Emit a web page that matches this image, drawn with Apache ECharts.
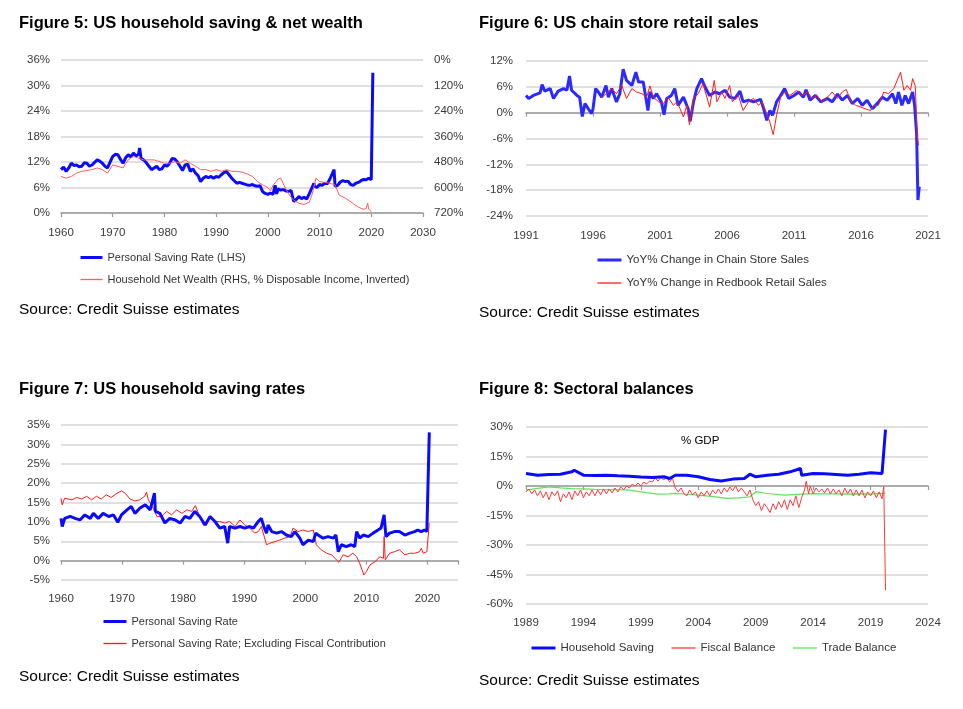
<!DOCTYPE html>
<html>
<head>
<meta charset="utf-8">
<script src="https://cdn.jsdelivr.net/npm/echarts@6/dist/echarts.min.js"></script>
<style>
html,body{margin:0;padding:0;background:#fff;}
#main{width:963px;height:709px;}
</style>
</head>
<body>
<div id="main"></div>
<script>
// ---------- Figure 5 ----------
const p1Saving = [[1960,10.2],[1960.5,10.8],[1961,9.8],[1961.5,10.6],[1962,11.7],[1962.5,11.2],[1963,11.3],[1963.5,10.9],[1964,11],[1964.5,11.8],[1965,11.7],[1965.5,11.0],[1966,11.3],[1966.5,11.9],[1967,12.5],[1967.5,12.2],[1968,11.7],[1968.5,11.0],[1969,10.6],[1969.5,12.0],[1970,13.3],[1970.5,13.8],[1971,13.7],[1971.5,12.6],[1972,11.7],[1972.5,13.0],[1973,13.7],[1973.5,13.2],[1974,14.1],[1974.5,13.4],[1975,13.8],[1975.2,15.3],[1975.5,12.8],[1976,12.5],[1976.5,11.8],[1977,11],[1977.5,10.2],[1978,10.6],[1978.5,11.0],[1979,10.2],[1979.5,10.4],[1980,11.3],[1980.5,11.0],[1981,11.7],[1981.5,12.8],[1982,12.7],[1982.5,12.0],[1983,11],[1983.5,10.0],[1984,11.3],[1984.5,11.5],[1985,9.8],[1985.5,10.4],[1986,9.4],[1986.5,8.8],[1987,7.4],[1987.5,8.2],[1988,8.6],[1988.5,8.3],[1989,8.6],[1989.5,8.2],[1990,8.6],[1990.5,8.4],[1991,9],[1991.5,9.5],[1992,9.8],[1992.5,9.0],[1993,8.2],[1993.5,7.6],[1994,7],[1994.5,7.2],[1995,7],[1995.5,6.8],[1996,6.6],[1996.5,6.5],[1997,6.7],[1997.5,6.4],[1998,6.3],[1998.5,6.4],[1999,5.0],[1999.5,4.6],[2000,4.4],[2000.5,4.7],[2001,4.4],[2001.4,6.5],[2001.7,4.5],[2002,5.7],[2002.5,5.4],[2003,5.5],[2003.5,5.2],[2004,5.1],[2004.5,5.3],[2005,2.7],[2005.5,3.2],[2006,3.9],[2006.5,3.4],[2007,3.7],[2007.5,3.3],[2008,4.5],[2008.9,7.0],[2009,6.3],[2009.5,6.0],[2010,6.7],[2010.5,6.5],[2011,7],[2011.5,6.9],[2012,8.0],[2012.8,10.2],[2013,6.3],[2013.5,6.5],[2014,7.3],[2014.5,7.6],[2015,7.4],[2015.5,7.5],[2016,6.7],[2016.5,6.5],[2017,7],[2017.5,7.2],[2018,7.6],[2018.5,7.9],[2019,7.8],[2019.5,8.2],[2020,7.8],[2020.15,7.9],[2020.3,33.0]];
const p1Wealth = [[1960,548],[1961,556],[1962,548],[1963,532],[1964,524],[1965,520],[1966,516],[1967,508],[1968,516],[1969,532],[1970,494],[1971,500],[1972,508],[1973,470],[1974,454],[1975,462],[1976,470],[1977,470],[1978,470],[1979,478],[1980,486],[1981,486],[1982,478],[1983,486],[1984,470],[1985,486],[1986,500],[1987,516],[1988,516],[1989,524],[1990,516],[1991,524],[1992,516],[1993,524],[1994,524],[1995,528],[1996,536],[1997,548],[1998,572],[1999,588],[2000,600],[2000.5,616],[2001,590],[2002,560],[2002.5,556],[2003,584],[2004,630],[2005,660],[2006,674],[2007,680],[2008,670],[2008.6,630],[2009.3,556],[2010,572],[2011,576],[2012,580],[2013,588],[2013.8,636],[2015,650],[2016.4,674],[2017.5,692],[2018.4,702],[2019,700],[2019.3,674],[2019.5,702],[2020,714]];
const p1YearTicks = {min:1960, max:2030, step:10};
const p1Left = {min:0, max:36, step:6};
const p1Right = {min:0, max:720, step:120};

// ---------- Figure 6 ----------
const p2Chain = [[1991.0,4.0],[1991.2,3.3],[1991.55,4.0],[1992.05,4.6],[1992.2,6.5],[1992.4,5.0],[1992.8,5.6],[1993.05,3.3],[1993.4,5.0],[1993.8,5.6],[1994.05,5.2],[1994.25,8.5],[1994.4,5.2],[1994.8,4.0],[1995.0,3.6],[1995.2,-0.9],[1995.4,2.1],[1995.65,0.9],[1995.9,-0.2],[1996.0,0.9],[1996.2,5.6],[1996.4,4.8],[1996.65,3.6],[1996.97,6.3],[1997.15,3.6],[1997.4,5.6],[1997.75,2.5],[1998.0,4.4],[1998.25,10.1],[1998.5,7.5],[1998.9,6.3],[1999.2,9.4],[1999.4,7.1],[1999.75,7.1],[2000.1,0.5],[2000.25,4.8],[2000.5,3.3],[2000.75,4.4],[2001.1,2.5],[2001.3,-0.5],[2001.5,3.3],[2001.85,4.0],[2002.1,5.6],[2002.35,1.7],[2002.75,3.6],[2003.1,0.9],[2003.25,-2.0],[2003.5,2.5],[2003.75,5.6],[2004.1,7.9],[2004.35,6.0],[2004.7,4.0],[2005.1,4.8],[2005.45,4.4],[2005.85,5.2],[2006.2,3.6],[2006.6,3.3],[2006.97,5.0],[2007.2,2.5],[2007.6,2.9],[2007.97,2.5],[2008.5,3.1],[2008.7,1.3],[2008.97,-1.8],[2009.2,0.5],[2009.4,-0.6],[2009.7,2.5],[2010.0,4.0],[2010.3,5.6],[2010.6,3.3],[2011.0,4.0],[2011.35,4.8],[2011.7,3.6],[2011.9,5.3],[2012.2,2.9],[2012.6,4.0],[2013.0,2.5],[2013.5,3.3],[2013.85,2.5],[2014.25,4.3],[2014.6,2.9],[2015.0,4.0],[2015.35,2.1],[2015.75,3.3],[2016.1,1.7],[2016.45,2.9],[2016.85,0.9],[2017.2,2.1],[2017.6,3.6],[2017.95,2.9],[2018.35,4.4],[2018.6,2.1],[2018.8,4.8],[2019.05,1.7],[2019.3,4.0],[2019.55,2.1],[2019.85,4.8],[2020.0,1.7],[2020.15,-4.9],[2020.25,-20.3],[2020.35,-17.2]];
const p2Redbook = [[1996.65,3.6],[1997.0,4.4],[1997.4,5.6],[1997.75,4.4],[1998.15,6.3],[1998.5,3.3],[1998.9,5.6],[1999.25,4.8],[1999.65,4.4],[2000.0,3.6],[2000.25,6.2],[2000.5,3.6],[2000.9,2.5],[2001.25,2.1],[2001.6,3.6],[2002.0,1.7],[2002.25,2.5],[2002.5,0.9],[2002.75,-1.0],[2003.0,1.7],[2003.2,-2.8],[2003.5,3.3],[2003.85,4.4],[2004.2,6.7],[2004.5,3.6],[2004.7,1.3],[2005.05,7.5],[2005.25,2.5],[2005.6,4.8],[2005.85,3.3],[2006.2,6.3],[2006.4,2.5],[2006.85,4.0],[2007.2,0.5],[2007.6,2.5],[2007.97,3.3],[2008.35,1.7],[2008.6,2.5],[2008.97,-0.2],[2009.2,-2.2],[2009.45,-5.1],[2009.7,-0.6],[2010.0,3.6],[2010.35,4.8],[2010.7,4.0],[2011.2,5.2],[2011.6,4.0],[2012.0,4.8],[2012.35,3.3],[2012.7,4.0],[2013.1,2.5],[2013.5,3.6],[2013.85,4.8],[2014.25,3.3],[2014.6,4.8],[2014.9,5.4],[2015.2,2.9],[2015.6,1.7],[2016.0,1.3],[2016.3,0.9],[2016.7,0.5],[2016.95,1.7],[2017.3,1.7],[2017.7,4.8],[2018.05,4.4],[2018.45,5.6],[2018.95,9.4],[2019.2,5.2],[2019.45,6.3],[2019.7,5.2],[2019.85,7.9],[2020.05,6.2],[2020.15,6.2],[2020.2,-5.6],[2020.3,-7.6]];
const p2YearTicks = {min:1991, max:2021, step:5};
const p2Y = {min:-24, max:12, step:6};

// ---------- Figure 7 ----------
const p3Saving = [[1960,10.9],[1960.2,8.8],[1960.6,10.9],[1961.5,11.4],[1962.3,10.9],[1963.1,10.5],[1963.9,11.8],[1964.8,10.9],[1965.3,12.2],[1966.1,10.9],[1966.9,12.2],[1967.8,11.4],[1968.6,11.8],[1969.3,9.9],[1969.9,11.8],[1970.8,13.1],[1971.5,14.0],[1972.1,12.2],[1972.9,13.5],[1973.8,14.4],[1974.6,13.1],[1975.3,17.4],[1975.45,12.7],[1976.2,12.2],[1977.0,9.7],[1977.8,10.9],[1978.7,10.5],[1979.5,9.7],[1980.3,11.4],[1981.1,10.9],[1981.9,12.7],[1982.7,11.4],[1983.6,9.2],[1984.4,11.4],[1985.2,10.1],[1986.0,8.4],[1986.8,8.8],[1987.3,4.5],[1987.6,8.8],[1988.5,8.4],[1989.3,8.8],[1990.1,8.4],[1990.9,8.8],[1991.5,8.4],[1992.3,10.1],[1992.8,10.9],[1993.2,8.8],[1993.65,7.1],[1993.9,9.2],[1994.5,7.5],[1995.3,7.1],[1996.1,7.5],[1996.9,6.6],[1997.7,6.2],[1998.3,7.5],[1999.1,5.8],[1999.6,4.1],[2000.5,5.3],[2001.3,4.9],[2001.7,7.1],[2002.1,6.6],[2002.9,5.8],[2003.7,6.2],[2004.6,5.8],[2005.0,6.6],[2005.4,2.3],[2005.9,4.1],[2006.7,3.6],[2007.5,4.1],[2008.1,3.6],[2008.4,7.5],[2008.9,5.8],[2009.5,6.6],[2010.3,6.2],[2011.1,7.1],[2011.9,7.9],[2012.4,8.4],[2012.9,11.8],[2013.2,6.2],[2013.8,7.1],[2014.6,7.5],[2015.4,7.5],[2016.3,6.6],[2017.1,7.1],[2017.9,7.5],[2018.4,7.9],[2019.0,7.5],[2019.5,7.9],[2019.9,7.5],[2020.1,8.0],[2020.3,33.1]];
const p3ExFiscal = [[1960,16.1],[1960.2,14.4],[1960.6,16.1],[1961.8,15.7],[1962.6,16.3],[1963.4,15.9],[1964.2,16.6],[1965.0,15.7],[1965.8,16.6],[1966.6,15.9],[1967.4,17.0],[1968.2,16.3],[1969.0,17.2],[1969.9,18.0],[1970.5,17.4],[1971.3,15.9],[1972.1,15.4],[1972.9,15.7],[1973.7,16.6],[1974.0,17.7],[1974.3,15.7],[1975.1,13.5],[1975.7,11.4],[1976.5,11.4],[1977.3,12.7],[1978.1,11.8],[1978.9,13.1],[1979.8,12.2],[1980.6,13.1],[1981.4,12.7],[1982.0,14.2],[1982.5,12.2],[1983.3,9.2],[1983.8,9.2],[1984.4,11.4],[1985.2,10.1],[1986.0,10.1],[1986.8,9.7],[1987.6,10.1],[1988.5,8.8],[1989.3,10.5],[1990.1,9.2],[1990.9,8.4],[1991.7,7.1],[1992.3,7.5],[1992.8,8.8],[1993.2,6.6],[1993.65,4.1],[1994.2,4.5],[1995.0,4.9],[1995.8,5.3],[1996.6,5.8],[1997.5,6.2],[1998.0,8.4],[1998.8,7.5],[1999.6,7.9],[2000.5,7.5],[2001.3,7.9],[2001.8,4.1],[2002.6,2.8],[2003.5,1.9],[2004.3,1.5],[2005.1,0.2],[2005.5,-0.4],[2006.2,1.5],[2007.0,1.0],[2007.8,1.9],[2008.4,1.0],[2008.9,-0.7],[2009.6,-3.7],[2010.0,-2.8],[2010.6,-1.1],[2011.4,-0.3],[2012.2,1.0],[2012.8,0.6],[2012.9,6.2],[2013.1,0.2],[2013.8,1.9],[2014.6,2.3],[2015.4,2.8],[2016.3,1.5],[2017.1,1.9],[2017.9,1.9],[2018.7,2.3],[2019.0,3.2],[2019.3,1.9],[2019.9,2.3],[2020.1,2.2],[2020.3,9.7]];
const p3YearTicks = {min:1960, max:2025, step:10};
const p3Y = {min:-5, max:35, step:5};

// ---------- Figure 8 ----------
const p4Household = [[1989,6.4],[1990,5.5],[1991,5.8],[1992,6.0],[1993,7.2],[1993.2,8.0],[1994,5.5],[1995,5.4],[1996,5.5],[1997,5.2],[1998,5.0],[1999,4.6],[2000,4.3],[2001,4.7],[2001.5,3.8],[2002,5.5],[2003,5.5],[2004,4.7],[2005,3.3],[2006,2.5],[2007,3.5],[2008,3.8],[2008.5,6.0],[2009,4.7],[2010,5.5],[2011,6.0],[2012,7.2],[2012.9,8.9],[2013,5.5],[2014,6.4],[2015,6.2],[2016,5.9],[2017,5.5],[2018,6.0],[2019,6.7],[2020,6.4],[2020.3,28.7]];
const p4Fiscal = [[1989,-3],[1989.25,-1.5],[1989.5,-4],[1989.75,-2],[1990,-5],[1990.25,-2.5],[1990.5,-6],[1990.75,-3],[1991,-7],[1991.25,-3],[1991.5,-5],[1991.75,-2.5],[1992,-8],[1992.25,-4],[1992.5,-6],[1992.75,-3],[1993,-7],[1993.25,-2.5],[1993.5,-5],[1993.75,-2],[1994,-6],[1994.25,-3],[1994.5,-5],[1994.75,-2],[1995,-5],[1995.25,-2],[1995.5,-4.5],[1995.75,-1.5],[1996,-4],[1996.25,-1.5],[1996.5,-3.5],[1996.75,-1],[1997,-3],[1997.25,-0.5],[1997.5,-2],[1997.75,0],[1998,-1],[1998.25,1],[1998.5,0],[1998.75,1.5],[1999,0],[1999.25,2],[1999.5,1],[1999.75,2.5],[2000,2],[2000.25,4],[2000.5,2.5],[2000.75,4.5],[2001,3],[2001.25,5],[2001.5,2],[2001.75,4],[2002,-1],[2002.25,-3],[2002.5,-1],[2002.75,-4],[2003,-5],[2003.25,-2],[2003.5,-4.5],[2003.75,-3],[2004,-6],[2004.25,-3],[2004.5,-5],[2004.75,-2.5],[2005,-5],[2005.25,-2],[2005.5,-4],[2005.75,-1.5],[2006,-4],[2006.25,-1],[2006.5,-3],[2006.75,-0.5],[2007,-2.5],[2007.25,0],[2007.5,-3],[2007.75,-1],[2008,-3],[2008.25,-5],[2008.5,-2],[2008.75,-7],[2009,-10],[2009.25,-8],[2009.5,-12.5],[2009.75,-9],[2010,-11],[2010.25,-13.5],[2010.5,-9],[2010.75,-12],[2011,-8],[2011.25,-11],[2011.5,-7],[2011.75,-12],[2012,-7],[2012.25,-10],[2012.5,-5],[2012.75,-11],[2013,-6],[2013.25,-2],[2013.4,2.5],[2013.6,-4],[2013.75,0],[2014,-4],[2014.25,-1],[2014.5,-3],[2014.75,-1.5],[2015,-3.5],[2015.25,-1],[2015.5,-4],[2015.75,-1.5],[2016,-4],[2016.25,-2],[2016.5,-5],[2016.75,-1],[2017,-4],[2017.25,-1.5],[2017.5,-5],[2017.75,-2],[2018,-5],[2018.25,-2],[2018.5,-6],[2018.75,-3],[2019,-5],[2019.25,-2.5],[2019.5,-6],[2019.75,-3],[2020,-6.5],[2020.15,-0.3],[2020.3,-53.0]];
const p4Trade = [[1989,-2.1],[1990,-1.2],[1991,-0.4],[1992,-1.0],[1993,-1.3],[1994,-1.5],[1995,-1.7],[1996,-1.8],[1997,-1.9],[1998,-2.1],[1999.5,-3.4],[2000.5,-4.1],[2001.5,-4.0],[2002,-3.8],[2003,-4.2],[2004,-4.6],[2005.5,-5.5],[2006.5,-6.3],[2007.5,-6.0],[2008.5,-5.5],[2009,-2.9],[2010,-3.8],[2011.5,-4.6],[2013,-4.1],[2014,-3.9],[2015,-4.0],[2016,-4.0],[2017,-4.1],[2018,-4.0],[2019,-4.1],[2020.3,-3.6]];
const p4YearTicks = {min:1989, max:2024, step:5};
const p4Y = {min:-60, max:30, step:15};

const FONT = "'Liberation Sans', Arial, sans-serif";
const LABEL = {fontSize:11.5, color:'#3a3a3a', fontFamily:FONT};
const GRIDLINE = {show:true, lineStyle:{color:'#d6d6d6', width:1.5}};
const BLUE = '#0a0aff';
const C = {p1red:'#ff5c5c', p2blue:'#2a2aff', red:'#ff1a1a', p4red:'#ff3a3a', green:'#5ee35e'};

function yAx(grid, s, opts) {
  return Object.assign({
    type:'value', gridIndex:grid, min:s.min, max:s.max, interval:s.step,
    axisLine:{show:false}, axisTick:{show:false},
    axisLabel:Object.assign({formatter:v => v + '%', margin:11}, LABEL),
    splitLine:GRIDLINE
  }, opts || {});
}
function xLabelAx(grid, s, showLine, margin) {
  return {
    type:'value', gridIndex:grid, position:'bottom', min:s.min, max:s.max, interval:s.step,
    axisLine:{show:showLine, onZero:false, lineStyle:{color:'#9a9a9a', width:1.5}},
    axisTick:{show:showLine, length:4, lineStyle:{color:'#9a9a9a', width:1.2}},
    axisLabel:Object.assign({margin:margin, formatter:v => ((v - s.min) % s.step === 0 ? String(v) : '')}, LABEL),
    splitLine:{show:false}
  };
}
function xZeroAx(grid, s) {
  return {
    type:'value', gridIndex:grid, position:'bottom', min:s.min, max:s.max, interval:s.step,
    axisLine:{show:true, onZero:true, lineStyle:{color:'#9a9a9a', width:1.5}},
    axisTick:{show:true, length:4, lineStyle:{color:'#9a9a9a', width:1.2}},
    axisLabel:{show:false}, splitLine:{show:false}
  };
}
function line(name, data, xi, yi, color, width, z) {
  return {name, type:'line', data, xAxisIndex:xi, yAxisIndex:yi, symbol:'none', z:z,
    lineStyle:{color, width}, itemStyle:{color}, emphasis:{disabled:true}};
}
function txt(x, y, text, size, weight) {
  return {type:'text', x, y, silent:true,
    style:{text, fill:'#000', font:(weight||'normal') + ' ' + size + 'px ' + FONT, textVerticalAlign:'middle', verticalAlign:'middle'}};
}
function legendCfg(items, left, top, orient, itemWidth, gap, fs) {
  return {data:items.map(it => ({name:it[0], lineStyle:{width:it[1], color:it[2]}})),
    left, top, orient, itemWidth, itemHeight:12, itemGap:gap, padding:0,
    selectedMode:false,
    itemStyle:{color:'rgba(0,0,0,0)', borderWidth:0, opacity:0},
    textStyle:{fontSize:fs, color:'#333', fontFamily:FONT}};
}

const chart = echarts.init(document.getElementById('main'), null, {renderer:'canvas'});
chart.setOption({
  animation:false,
  backgroundColor:'#fff',
  grid:[
    {left:61, top:60, width:362, height:153},
    {left:526, top:61, width:402, height:155},
    {left:61, top:425, width:397, height:155},
    {left:526, top:427, width:402, height:177}
  ],
  xAxis:[
    xLabelAx(0, p1YearTicks, true, 14),
    xLabelAx(1, p2YearTicks, false, 14), xZeroAx(1, p2YearTicks),
    xLabelAx(2, p3YearTicks, false, 13), xZeroAx(2, p3YearTicks),
    xLabelAx(3, p4YearTicks, false, 13), xZeroAx(3, p4YearTicks)
  ],
  yAxis:[
    yAx(0, p1Left),
    yAx(0, p1Right, {position:'right', inverse:true, splitLine:{show:false}}),
    yAx(1, p2Y, {axisLabel:Object.assign({formatter:v => v + '%', margin:13}, LABEL)}),
    yAx(2, p3Y),
    yAx(3, p4Y, {axisLabel:Object.assign({formatter:v => v + '%', margin:13}, LABEL)})
  ],
  legend:[
    legendCfg([['Personal Saving Rate (LHS)',3,BLUE],['Household Net Wealth (RHS, % Disposable Income, Inverted)',1.3,C.p1red]], 79, 252, 'vertical', 22, 11, 11),
    legendCfg([['YoY% Change in Chain Store Sales',3,C.p2blue],['YoY% Change in Redbook Retail Sales',1.3,C.red]], 596, 254, 'vertical', 24, 11, 11.5),
    legendCfg([['Personal Saving Rate',3,BLUE],['Personal Saving Rate; Excluding Fiscal Contribution',1.3,C.red]], 102, 616, 'vertical', 23, 11, 11),
    legendCfg([['Household Saving',3,BLUE],['Fiscal Balance',1.3,C.p4red],['Trade Balance',1.3,C.green]], 530, 642, 'horizontal', 24, 17, 11.5)
  ],
  series:[
    line('Personal Saving Rate (LHS)', p1Saving, 0, 0, BLUE, 3, 3),
    line('Household Net Wealth (RHS, % Disposable Income, Inverted)', p1Wealth, 0, 1, C.p1red, 1, 4),
    line('YoY% Change in Chain Store Sales', p2Chain, 1, 2, C.p2blue, 3, 3),
    line('YoY% Change in Redbook Retail Sales', p2Redbook, 1, 2, C.red, 1, 4),
    line('Personal Saving Rate', p3Saving, 3, 3, BLUE, 3, 4),
    line('Personal Saving Rate; Excluding Fiscal Contribution', p3ExFiscal, 3, 3, C.red, 1, 3),
    line('Household Saving', p4Household, 5, 4, BLUE, 3, 5),
    line('Fiscal Balance', p4Fiscal, 5, 4, C.p4red, 1, 4),
    line('Trade Balance', p4Trade, 5, 4, C.green, 1.2, 3)
  ],
  graphic:[
    txt(19, 23, 'Figure 5: US household saving & net wealth', 16.5, 'bold'),
    txt(479, 23, 'Figure 6: US chain store retail sales', 16.5, 'bold'),
    txt(19, 389, 'Figure 7: US household saving rates', 16.5, 'bold'),
    txt(479, 389, 'Figure 8: Sectoral balances', 16.5, 'bold'),
    txt(19, 310, 'Source: Credit Suisse estimates', 15.5),
    txt(479, 313, 'Source: Credit Suisse estimates', 15.5),
    txt(19, 677, 'Source: Credit Suisse estimates', 15.5),
    txt(479, 681, 'Source: Credit Suisse estimates', 15.5),
    txt(681, 441, '% GDP', 11.5)
  ]
});
</script>
</body>
</html>
